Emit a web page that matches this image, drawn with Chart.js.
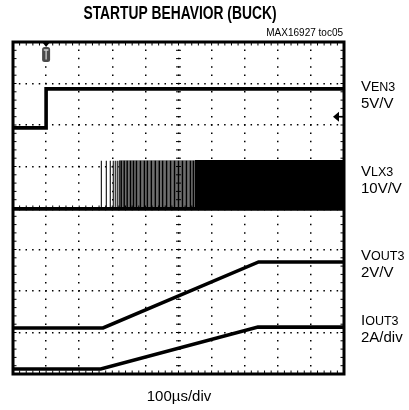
<!DOCTYPE html>
<html><head><meta charset="utf-8">
<script src="https://cdn.jsdelivr.net/npm/chart.js@4.4.1/dist/chart.umd.min.js"></script>
<style>html,body{margin:0;padding:0;background:#fff;overflow:hidden}canvas{display:block}</style>
</head><body>
<canvas id="c" width="409" height="410"></canvas>
<script>
// ---- data (time in divisions of 100µs, level in screen divisions 0..8) ----
const titleText = 'STARTUP BEHAVIOR (BUCK)';
const noteText = 'MAX16927 toc05';
const timeLabel = '100µs/div';
const traceMain = ['V', 'V', 'V', 'I'];
const traceSub = ['EN3', 'LX3', 'OUT3', 'OUT3'];
const traceScale = ['5V/V', '10V/V', '2V/V', '2A/div'];

const enTime = [0, 1.0, 1.0, 10];
const enLevel = [5.93, 5.93, 6.87, 6.87];

const lxBaseTime = [0, 10];
const lxBaseLevel = [3.98, 3.98];
const lxPulseTop = 5.14;
const lxSparsePulses = [2.67, 2.82, 2.94, 3.03, 3.09, 3.15, 3.21];
const lxDensePulses = [3.27, 3.36, 3.45, 3.55, 3.64, 3.73, 3.85, 3.97, 4.06, 4.18, 4.30, 4.42, 4.52, 4.64, 4.76, 4.88, 5.00, 5.12, 5.24, 5.36, 5.45];
const lxGrayBand = [3.21, 5.52];
const lxSolidBand = [5.52, 10];

const outTime = [0, 2.72, 7.42, 10];
const outLevel = [1.11, 1.11, 2.70, 2.70];

const iTime = [0, 2.65, 7.40, 10];
const iLevel = [0.12, 0.12, 1.13, 1.13];

const triggerTime = 1.0;
const groundLevel = 6.2;

// ---- build datasets ----
const xy = (ts, ys) => ts.map((t, i) => ({x: t, y: ys[i]}));
const pulses = (ts, base, top) => { const p = []; ts.forEach(t => p.push({x: t, y: base}, {x: t, y: top}, {x: t, y: base})); return p; };
const band = (r, base, top) => [{x: r[0], y: base}, {x: r[0], y: top}, {x: r[1], y: top}, {x: r[1], y: base}];
const base = lxBaseLevel[0];

const line = (data, extra) => Object.assign({data, borderColor: '#000', borderWidth: 3.6, pointRadius: 0, tension: 0, fill: false, borderCapStyle: 'butt'}, extra || {});

const datasets = [
  line(xy(enTime, enLevel)),
  line(xy(lxBaseTime, lxBaseLevel)),
  line(xy(outTime, outLevel)),
  line(xy(iTime, iLevel)),
  line(pulses(lxSparsePulses, base, lxPulseTop), {borderWidth: 1.2, borderColor: '#222'}),
  line(pulses(lxDensePulses, base, lxPulseTop), {borderWidth: 1.4, borderColor: '#000'}),
  line(band(lxSolidBand, base, lxPulseTop), {borderWidth: 1.5, fill: {value: base}, backgroundColor: '#000'}),
  line(band(lxGrayBand, base, lxPulseTop), {borderWidth: 0.8, borderColor: '#666', fill: {value: base}, backgroundColor: '#6e6e6e'})
];

const FONT = '"Liberation Sans", Arial, sans-serif';

const scopePlugin = {
  id: 'scope',
  afterDatasetsDraw(chart) {
    const ctx = chart.ctx, a = chart.chartArea, xs = chart.scales.x, ys = chart.scales.y;
    ctx.save();
    ctx.strokeStyle = '#000'; ctx.fillStyle = '#000';
    // center cross ticks and edge ticks
    ctx.lineWidth = 1;
    const cx = xs.getPixelForValue(5), cy = ys.getPixelForValue(4);
    for (let v = 0; v <= 10.001; v += 0.2) {
      const px = xs.getPixelForValue(v);
      ctx.beginPath(); ctx.moveTo(px, cy - 2.5); ctx.lineTo(px, cy + 2.5); ctx.stroke();
      ctx.beginPath(); ctx.moveTo(px, a.top); ctx.lineTo(px, a.top + 3.5); ctx.stroke();
      ctx.beginPath(); ctx.moveTo(px, a.bottom); ctx.lineTo(px, a.bottom - 3.5); ctx.stroke();
    }
    for (let v = 0; v <= 8.001; v += 0.2) {
      const py = ys.getPixelForValue(v);
      ctx.beginPath(); ctx.moveTo(cx - 2.5, py); ctx.lineTo(cx + 2.5, py); ctx.stroke();
      ctx.beginPath(); ctx.moveTo(a.left, py); ctx.lineTo(a.left + 3.5, py); ctx.stroke();
      ctx.beginPath(); ctx.moveTo(a.right, py); ctx.lineTo(a.right - 3.5, py); ctx.stroke();
    }
    // frame
    ctx.lineWidth = 3;
    ctx.strokeRect(a.left, a.top, a.right - a.left, a.bottom - a.top);
    // trigger marker
    const tx = xs.getPixelForValue(triggerTime);
    ctx.beginPath(); ctx.moveTo(tx - 4, a.top); ctx.lineTo(tx + 4, a.top); ctx.lineTo(tx, a.top + 5); ctx.closePath(); ctx.fill();
    ctx.fillStyle = '#4a4a4a';
    ctx.beginPath(); ctx.roundRect(tx - 4, a.top + 5, 8, 15, 2.5); ctx.fill();
    ctx.strokeStyle = '#cfcfcf'; ctx.lineWidth = 1.3;
    ctx.beginPath(); ctx.moveTo(tx - 2.3, a.top + 8); ctx.lineTo(tx + 2.3, a.top + 8); ctx.moveTo(tx, a.top + 8); ctx.lineTo(tx, a.top + 17.5); ctx.stroke();
    // ground marker
    const gy = ys.getPixelForValue(groundLevel);
    ctx.fillStyle = '#000'; ctx.strokeStyle = '#000'; ctx.lineWidth = 1.6;
    ctx.beginPath(); ctx.moveTo(a.right - 6, gy); ctx.lineTo(a.right, gy); ctx.stroke();
    ctx.beginPath(); ctx.moveTo(a.right - 11, gy); ctx.lineTo(a.right - 5, gy - 5); ctx.lineTo(a.right - 5, gy + 5); ctx.closePath(); ctx.fill();
    ctx.restore();
  },
  afterDraw(chart) {
    const ctx = chart.ctx, a = chart.chartArea;
    ctx.save();
    ctx.fillStyle = '#000';
    ctx.textBaseline = 'alphabetic';
    // title (condensed bold)
    ctx.save();
    ctx.textAlign = 'center';
    ctx.font = 'bold 17.5px ' + FONT;
    ctx.translate(180, 19);
    ctx.scale(0.79, 1);
    ctx.fillText(titleText, 0, 0);
    ctx.restore();
    ctx.textAlign = 'right';
    ctx.font = '10px ' + FONT;
    ctx.fillText(noteText, a.right - 1, 36);
    ctx.textAlign = 'center';
    ctx.font = '15px ' + FONT;
    ctx.fillText(timeLabel, 179, 401);
    // right labels
    const base1 = [91, 176, 260, 325];
    ctx.textAlign = 'left';
    const lx = 361;
    traceMain.forEach((m, i) => {
      ctx.font = '15px ' + FONT;
      ctx.fillText(m, lx, base1[i]);
      const w = ctx.measureText(m).width;
      ctx.font = '12.5px ' + FONT;
      ctx.fillText(traceSub[i], lx + w, base1[i]);
      ctx.font = '15px ' + FONT;
      ctx.fillText(traceScale[i], lx, base1[i] + 17);
    });
    ctx.restore();
  }
};

const gridDash = (axis) => (c) => {
  const a = c.chart.chartArea;
  if (!a) return [1.5, 5];
  const p = axis === 'x' ? (a.bottom - a.top) / 40 : (a.right - a.left) / 50;
  return [1.5, p - 1.5];
};

new Chart(document.getElementById('c'), {
  type: 'line',
  data: {datasets},
  options: {
    responsive: false,
    animation: false,
    devicePixelRatio: 1,
    events: [],
    layout: {padding: {left: 13, top: 42, right: 65, bottom: 36}},
    plugins: {legend: {display: false}, tooltip: {enabled: false}, title: {display: false}},
    scales: {
      x: {type: 'linear', min: 0, max: 10, ticks: {display: false, stepSize: 1},
          grid: {color: '#000', lineWidth: 1.5, drawTicks: false},
          border: {display: false, dash: gridDash('x'), dashOffset: 0.75}},
      y: {type: 'linear', min: 0, max: 8, ticks: {display: false, stepSize: 1},
          grid: {color: '#000', lineWidth: 1.5, drawTicks: false},
          border: {display: false, dash: gridDash('y'), dashOffset: 0.75}}
    }
  },
  plugins: [scopePlugin]
});
</script>
</body></html>
